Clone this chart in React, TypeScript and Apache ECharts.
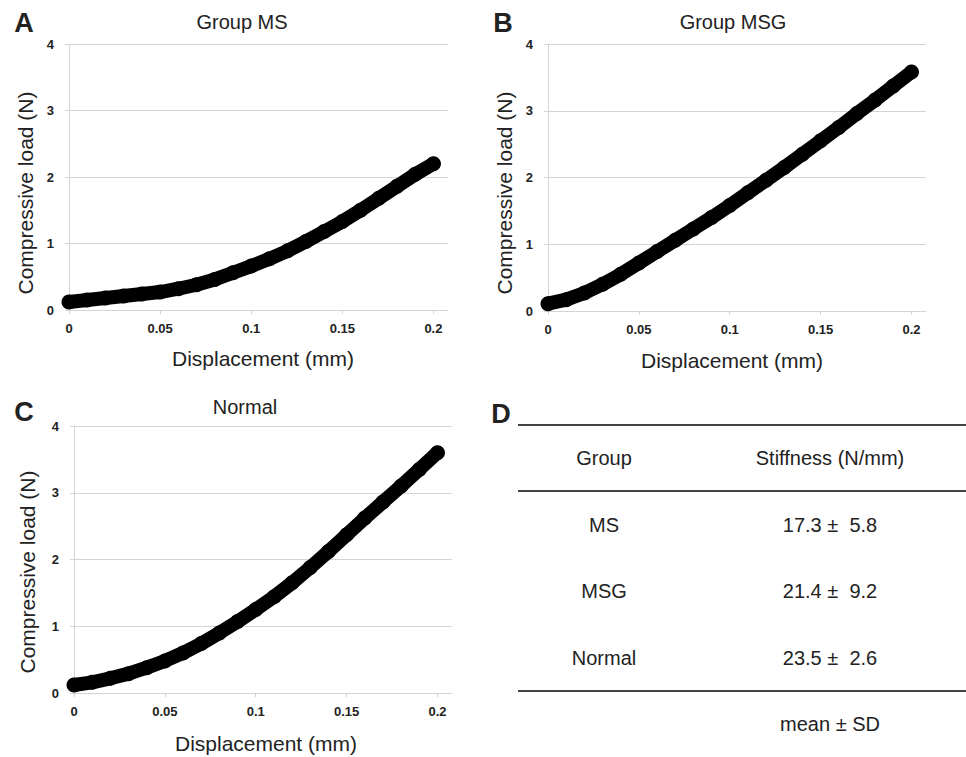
import React, { useEffect, useRef } from "react";
import * as echarts from "echarts";

const displacement = [0, 0.01, 0.02, 0.03, 0.04, 0.05, 0.06, 0.07, 0.08, 0.09, 0.1, 0.11, 0.12, 0.13, 0.14, 0.15, 0.16, 0.17, 0.18, 0.19, 0.2];
const loadMS = [0.12, 0.15, 0.18, 0.21, 0.24, 0.27, 0.32, 0.38, 0.46, 0.56, 0.66, 0.77, 0.89, 1.03, 1.18, 1.33, 1.5, 1.68, 1.86, 2.04, 2.2];
const loadMSG = [0.11, 0.17, 0.27, 0.4, 0.55, 0.72, 0.89, 1.06, 1.23, 1.4, 1.58, 1.77, 1.96, 2.15, 2.35, 2.55, 2.75, 2.96, 3.16, 3.37, 3.58];
const loadNormal = [0.12, 0.16, 0.22, 0.29, 0.38, 0.48, 0.6, 0.74, 0.9, 1.07, 1.25, 1.44, 1.65, 1.88, 2.12, 2.37, 2.62, 2.86, 3.1, 3.35, 3.6];

const panelTitles = ["Group MS", "Group MSG", "Normal"];
const panelLetters = ["A", "B", "C", "D"];
const xAxisTitle = "Displacement (mm)";
const yAxisTitle = "Compressive load (N)";

const tableHeader = ["Group", "Stiffness (N/mm)"];
const tableGroups = ["MS", "MSG", "Normal"];
const tableValues = ["17.3 \u00b1  5.8", "21.4 \u00b1  9.2", "23.5 \u00b1  2.6"];
const tableNote = "mean \u00b1 SD";

const FONT = "'Liberation Sans', Arial, sans-serif";
const GRID_COLOR = "#d4d4d4";

export default function App() {
  const ref = useRef<HTMLDivElement>(null);
  useEffect(() => {
    if (!ref.current) return;
    const chart = echarts.init(ref.current, null, { renderer: "svg" });
    const grids = [
      { left: 69, top: 44, right: 518, bottom: 447 },
      { left: 548, top: 44, right: 40, bottom: 446 },
      { left: 74, top: 426, right: 514, bottom: 64 },
    ];
    const seriesData = [loadMS, loadMSG, loadNormal];
    const xAxes = grids.map((_, i) => ({
      type: "value",
      gridIndex: i,
      min: 0,
      max: 0.208,
      interval: 0.05,
      axisLine: { show: true, lineStyle: { color: GRID_COLOR, width: 1 } },
      axisTick: { show: true, length: 4, lineStyle: { color: GRID_COLOR, width: 1 } },
      splitLine: { show: false },
      axisLabel: {
        showMaxLabel: false,
        margin: 12,
        fontFamily: FONT,
        fontSize: 13,
        fontWeight: "bold",
        color: "#222",
        formatter: (v: number) => String(Math.round(v * 100) / 100),
      },
    }));
    const yAxes = grids.map((_, i) => ({
      type: "value",
      gridIndex: i,
      min: 0,
      max: 4,
      interval: 1,
      axisLine: { show: true, lineStyle: { color: GRID_COLOR, width: 1 } },
      axisTick: { show: true, length: 4, lineStyle: { color: GRID_COLOR, width: 1 } },
      splitLine: { show: true, lineStyle: { color: GRID_COLOR, width: 1 } },
      axisLabel: {
        margin: 15,
        fontFamily: FONT,
        fontSize: 13,
        fontWeight: "bold",
        color: "#222",
      },
    }));
    const series = seriesData.map((vals, i) => ({
      type: "line",
      xAxisIndex: i,
      yAxisIndex: i,
      data: displacement.map((x, j) => [x, vals[j]]),
      symbol: "circle",
      symbolSize: 15,
      showSymbol: true,
      clip: false,
      lineStyle: { color: "#000", width: 14, cap: "round", join: "round" },
      itemStyle: { color: "#000" },
    }));

    const txt = (text: string, x: number, y: number, size: number, weight = "normal", align = "center", rotation = 0) => ({
      type: "text",
      x,
      y,
      rotation,
      style: {
        text,
        fontFamily: FONT,
        fontSize: size,
        fontWeight: weight,
        fill: "#222",
        textAlign: align,
        textVerticalAlign: "middle",
      },
    });

    const titlePos = [
      [242, 22],
      [733, 22],
      [245, 407],
    ];
    const xNamePos = [
      [263, 358],
      [732, 360],
      [266, 743],
    ];
    const yNamePos = [
      [25, 193],
      [504, 193],
      [27, 572],
    ];
    const letterPos = [
      [24, 23],
      [503, 23],
      [24, 412],
      [501, 414],
    ];

    const graphic: any[] = [];
    panelTitles.forEach((t, i) => graphic.push(txt(t, titlePos[i][0], titlePos[i][1], 20)));
    grids.forEach((_, i) => {
      graphic.push(txt(xAxisTitle, xNamePos[i][0], xNamePos[i][1], 21));
      graphic.push(txt(yAxisTitle, yNamePos[i][0], yNamePos[i][1], 21, "normal", "center", Math.PI / 2));
    });
    panelLetters.forEach((l, i) => graphic.push(txt(l, letterPos[i][0], letterPos[i][1], 27, "bold")));

    // table D
    const lineY = [425, 491, 691];
    lineY.forEach((y) =>
      graphic.push({
        type: "line",
        shape: { x1: 518, y1: y, x2: 966, y2: y },
        style: { stroke: "#444", lineWidth: 2 },
      })
    );
    const colX = [604, 830];
    graphic.push(txt(tableHeader[0], colX[0], 458, 20));
    graphic.push(txt(tableHeader[1], colX[1], 458, 20));
    const rowY = [525, 591, 658];
    tableGroups.forEach((g, i) => {
      graphic.push(txt(g, colX[0], rowY[i], 20));
      graphic.push(txt(tableValues[i], colX[1], rowY[i], 20));
    });
    graphic.push(txt(tableNote, colX[1], 724, 20));

    chart.setOption({
      animation: false,
      backgroundColor: "#fff",
      grid: grids,
      xAxis: xAxes,
      yAxis: yAxes,
      series,
      graphic,
    } as any);
    return () => chart.dispose();
  }, []);
  return <div ref={ref} style={{ position: "fixed", left: 0, top: 0, width: 966, height: 757 }} />;
}
